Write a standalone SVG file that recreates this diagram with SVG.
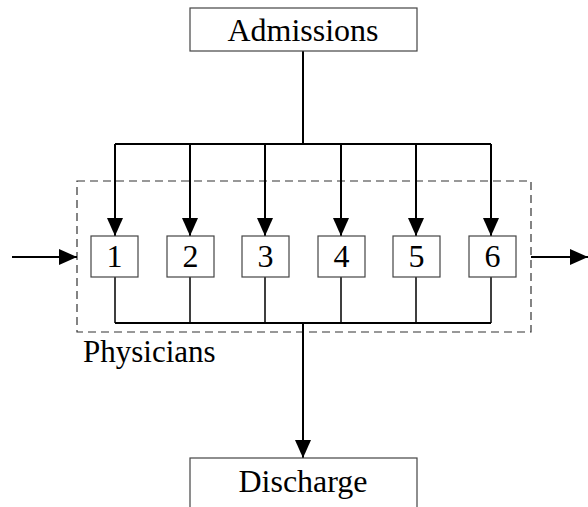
<svg xmlns="http://www.w3.org/2000/svg" width="588" height="507" viewBox="0 0 588 507">
<style>
.box{fill:#fff;stroke:#444;stroke-width:1.2}
.t{font-family:"Liberation Serif","DejaVu Serif",serif;font-size:32px;fill:#000;text-anchor:middle}
.lbl{font-family:"Liberation Serif","DejaVu Serif",serif;font-size:31px;fill:#000}
.c{fill:none;stroke:#000;stroke-width:2}
.thin{fill:none;stroke:#000;stroke-width:1.5}
</style>
<defs>
<marker id="ah" markerWidth="18" markerHeight="16" refX="18" refY="8" orient="auto" markerUnits="userSpaceOnUse">
<path d="M0,0 L18,8 L0,16 Z" fill="#000"/>
</marker>
</defs>
<g id="group-physicians">
<rect x="77" y="181" width="454" height="151" fill="none" stroke="#333" stroke-width="1.2" stroke-dasharray="8,5"/>
<text class="lbl" x="83" y="362">Physicians</text>
</g>
<g id="connectors">
<path class="c" d="M303,51 V144"/>
<path class="c" d="M115,144 H491"/>
<path class="c" d="M115,144 V236" marker-end="url(#ah)"/>
<path class="c" d="M190,144 V236" marker-end="url(#ah)"/>
<path class="c" d="M265,144 V236" marker-end="url(#ah)"/>
<path class="c" d="M341,144 V236" marker-end="url(#ah)"/>
<path class="c" d="M416,144 V236" marker-end="url(#ah)"/>
<path class="c" d="M491,144 V236" marker-end="url(#ah)"/>
<path class="thin" d="M115,277 V323 M190,277 V323 M265,277 V323 M341,277 V323 M416,277 V323 M491,277 V323"/>
<path class="c" d="M115,323 H491"/>
<path class="c" d="M303,323 V458" marker-end="url(#ah)"/>
<path class="c" d="M12,257 H77" marker-end="url(#ah)"/>
<path class="c" d="M531,257 H588" marker-end="url(#ah)"/>
</g>
<g id="admissions"><rect class="box" x="190" y="8" width="227" height="43"/><text class="t" x="303" y="41">Admissions</text></g>
<g id="discharge"><rect class="box" x="190" y="458" width="227" height="60"/><text class="t" x="303" y="492">Discharge</text></g>
<g id="p1"><rect class="box" x="91" y="236" width="47" height="41"/><text class="t" x="114.5" y="267">1</text></g>
<g id="p2"><rect class="box" x="167" y="236" width="47" height="41"/><text class="t" x="190.5" y="267">2</text></g>
<g id="p3"><rect class="box" x="242" y="236" width="47" height="41"/><text class="t" x="265.5" y="267">3</text></g>
<g id="p4"><rect class="box" x="318" y="236" width="47" height="41"/><text class="t" x="341.5" y="267">4</text></g>
<g id="p5"><rect class="box" x="393" y="236" width="47" height="41"/><text class="t" x="416.5" y="267">5</text></g>
<g id="p6"><rect class="box" x="469" y="236" width="47" height="41"/><text class="t" x="492.5" y="267">6</text></g>
</svg>
